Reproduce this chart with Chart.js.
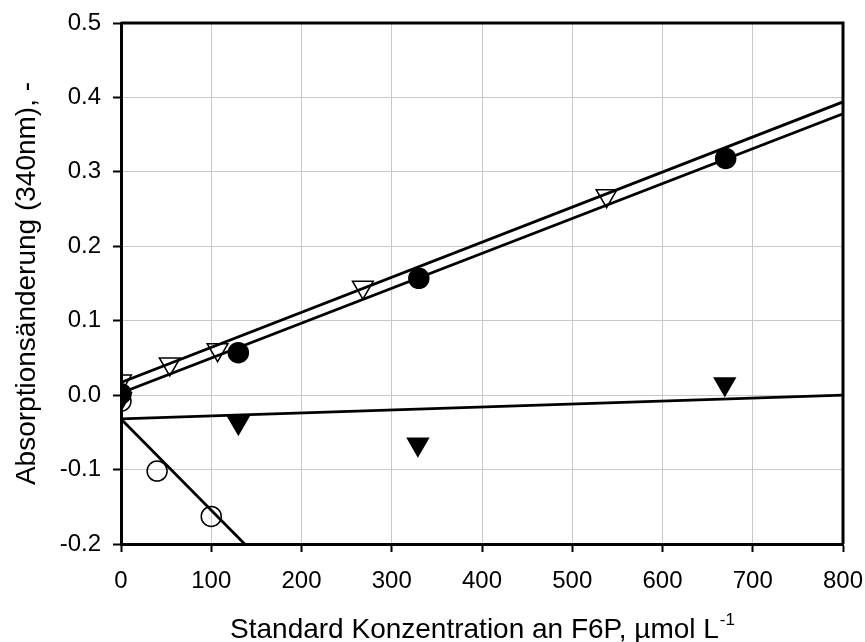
<!DOCTYPE html>
<html>
<head>
<meta charset="utf-8">
<script src="https://cdn.jsdelivr.net/npm/chart.js@4.4.1/dist/chart.umd.min.js"></script>
<style>
  html, body { margin: 0; padding: 0; background: #fff; }
</style>
</head>
<body>
<canvas id="chart" width="865" height="642"></canvas>
<script>
// tick labels
const xTicks = [0, 100, 200, 300, 400, 500, 600, 700, 800];
const yTicks = [-0.2, -0.1, 0.0, 0.1, 0.2, 0.3, 0.4, 0.5];

// measured points
const openCircleX = [0, 40, 100];
const openCircleY = [-0.008, -0.102, -0.163];
const filledCircleX = [0, 130, 330, 670];
const filledCircleY = [0.002, 0.057, 0.157, 0.318];
const openTriX = [0, 54, 107, 268, 538];
const openTriY = [0.019, 0.042, 0.061, 0.145, 0.268];
const filledTriX = [0, 130, 329, 669];
const filledTriY = [-0.005, -0.037, -0.066, 0.015];

// regression lines, end points
const fitOpenTriX = [0, 800];
const fitOpenTriY = [0.017, 0.394];
const fitFilledCircleX = [0, 800];
const fitFilledCircleY = [0.003, 0.378];
const fitFilledTriX = [0, 800];
const fitFilledTriY = [-0.032, 0.0];
const fitOpenCircleX = [0, 137];
const fitOpenCircleY = [-0.032, -0.2];

const FONT = "'Liberation Sans', Arial, sans-serif";

function pts(xs, ys) {
  return xs.map((x, i) => ({ x: x, y: ys[i] }));
}

function markers(xs, ys, style, fill, radius, rotation) {
  return {
    data: pts(xs, ys),
    showLine: false,
    pointStyle: style,
    pointRotation: rotation || 0,
    pointRadius: radius,
    pointBackgroundColor: fill,
    pointBorderColor: '#000',
    pointBorderWidth: 1.5,
    order: 1
  };
}

function fitLine(xs, ys) {
  return {
    data: pts(xs, ys),
    showLine: true,
    borderColor: '#000',
    borderWidth: 2.8,
    pointRadius: 0,
    order: 2
  };
}

const frame = {
  id: 'frame',
  beforeDatasetsDraw(chart) {
    const a = chart.chartArea, ctx = chart.ctx;
    ctx.save();
    ctx.strokeStyle = '#000';
    ctx.lineWidth = 3;
    ctx.beginPath();
    ctx.moveTo(a.left, a.top);
    ctx.lineTo(a.right, a.top);
    ctx.lineTo(a.right, a.bottom);
    ctx.stroke();
    ctx.restore();
  },
  afterDraw(chart) {
    const a = chart.chartArea, ctx = chart.ctx;
    ctx.save();
    ctx.fillStyle = '#000';
    // x title with superscript
    const main = 'Standard Konzentration an F6P, µmol L';
    const sup = '-1';
    ctx.font = '28px ' + FONT;
    const w1 = ctx.measureText(main).width;
    ctx.font = '17px ' + FONT;
    const w2 = ctx.measureText(sup).width;
    const cx = (a.left + a.right) / 2;
    const x0 = cx - (w1 + w2) / 2;
    ctx.textBaseline = 'alphabetic';
    ctx.textAlign = 'left';
    ctx.font = '28px ' + FONT;
    ctx.fillText(main, x0, 638);
    ctx.font = '17px ' + FONT;
    ctx.fillText(sup, x0 + w1 + 1, 625);
    // y title
    ctx.translate(35, (a.top + a.bottom) / 2);
    ctx.rotate(-Math.PI / 2);
    ctx.textAlign = 'center';
    ctx.textBaseline = 'alphabetic';
    ctx.font = '28px ' + FONT;
    ctx.fillText('Absorptionsänderung (340nm), -', 0, 0);
    ctx.restore();
  }
};

new Chart(document.getElementById('chart'), {
  type: 'scatter',
  data: {
    datasets: [
      fitLine(fitOpenTriX, fitOpenTriY),
      fitLine(fitFilledCircleX, fitFilledCircleY),
      fitLine(fitFilledTriX, fitFilledTriY),
      fitLine(fitOpenCircleX, fitOpenCircleY),
      markers(openCircleX, openCircleY, 'circle', 'rgba(255,255,255,0)', 10),
      markers(filledTriX, filledTriY, 'triangle', '#000', 12, 180),
      markers(filledCircleX, filledCircleY, 'circle', '#000', 10),
      markers(openTriX, openTriY, 'triangle', 'rgba(255,255,255,0)', 12, 180)
    ]
  },
  options: {
    responsive: false,
    animation: false,
    layout: { padding: { top: 23, right: 22, left: 0, bottom: 0 } },
    plugins: { legend: { display: false }, tooltip: { enabled: false } },
    scales: {
      x: {
        type: 'linear',
        min: 0,
        max: 800,
        afterBuildTicks: s => { s.ticks = xTicks.map(v => ({ value: v })); },
        afterFit: s => { s.height = 98; s.paddingLeft = 0; s.paddingRight = 0; },
        ticks: { color: '#000', font: { family: FONT, size: 24 }, padding: 15, maxRotation: 0 },
        grid: { color: '#c8c8c8', lineWidth: 1, tickColor: '#000', tickLength: 8, tickWidth: 2 },
        border: { color: '#000', width: 3 }
      },
      y: {
        type: 'linear',
        min: -0.2,
        max: 0.5,
        afterBuildTicks: s => { s.ticks = yTicks.map(v => ({ value: v })); },
        afterFit: s => { s.width = 121; s.paddingTop = 0; s.paddingBottom = 0; },
        ticks: { color: '#000', font: { family: FONT, size: 24 }, padding: 12, callback: v => v.toFixed(1) },
        grid: { color: '#c8c8c8', lineWidth: 1, tickColor: '#000', tickLength: 8, tickWidth: 2 },
        border: { color: '#000', width: 3 }
      }
    }
  },
  plugins: [frame]
});
</script>
</body>
</html>
